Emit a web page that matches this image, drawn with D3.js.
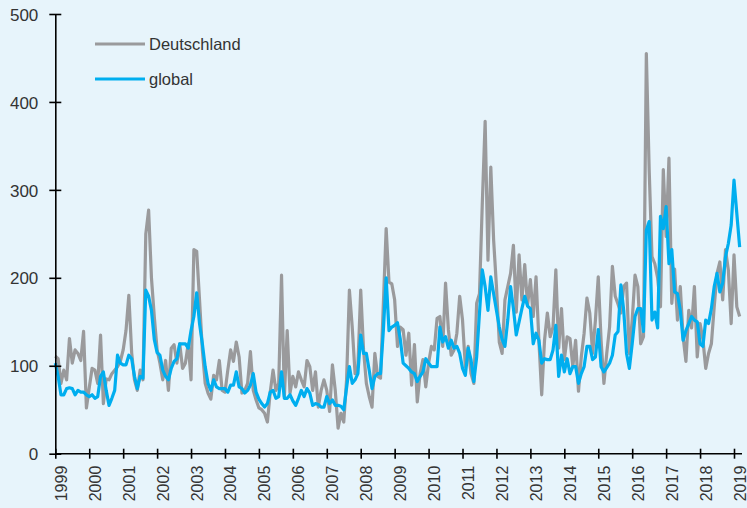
<!DOCTYPE html>
<html>
<head>
<meta charset="utf-8">
<script src="https://cdn.jsdelivr.net/npm/d3@7"></script>
<style>
  body { margin: 0; background: #e7f4fb; }
  svg { display: block; font-family: "Liberation Sans", Arial, sans-serif; }
</style>
</head>
<body>
<svg id="chart"></svg>
<script>
// monthly values, Jan 1999 - Mar 2019
const deutschland = [
  111, 108, 80, 95, 84, 131, 103, 118, 114, 106, 139, 52,
  75, 97, 95, 80, 135, 57, 85, 84, 91, 95, 99, 105,
  118, 140, 180, 115, 84, 72, 95, 84, 250, 277, 200, 156,
  118, 103, 84, 106, 72, 120, 124, 103, 125, 97, 103, 125,
  84, 232, 230, 175, 118, 80, 69, 62, 89, 84, 106, 72,
  70, 95, 118, 105, 127, 110, 69, 72, 80, 116, 72, 61,
  52, 50, 46, 36, 70, 95, 72, 80, 203, 65, 140, 69,
  88, 76, 93, 84, 76, 106, 99, 72, 93, 53, 72, 84,
  72, 48, 101, 72, 29, 46, 36, 84, 186, 144, 91, 99,
  186, 118, 80, 65, 53, 114, 88, 86, 170, 256, 195, 193,
  175, 122, 144, 141, 112, 137, 78, 124, 59, 91, 107, 76,
  103, 122, 118, 154, 156, 122, 194, 141, 112, 118, 137, 179,
  152, 99, 122, 91, 80, 171, 182, 285, 378, 220, 326, 243,
  190, 127, 114, 175, 190, 205, 237, 161, 226, 175, 215, 169,
  198, 156, 201, 129, 67, 129, 160, 133, 144, 209, 120, 165,
  107, 133, 131, 99, 129, 71, 110, 137, 177, 160, 114, 152,
  201, 129, 80, 114, 144, 213, 179, 170, 160, 190, 194, 114,
  152, 203, 190, 125, 133, 455, 323, 224, 216, 200, 167, 323,
  247, 336, 171, 210, 152, 190, 133, 105, 163, 143, 190, 110,
  148, 130, 97, 114, 125, 167, 205, 218, 175, 232, 209, 148,
  226, 167, 156
];

const global = [
  103, 88, 67, 67, 74, 75, 74, 67, 72, 70, 70, 67,
  65, 67, 63, 65, 88, 93, 72, 55, 63, 72, 112, 103,
  101, 101, 112, 108, 88, 74, 88, 86, 186, 179, 163, 130,
  115, 112, 95, 88, 84, 97, 105, 108, 125, 125, 125, 120,
  140, 156, 183, 148, 125, 99, 80, 72, 84, 76, 74, 74,
  74, 70, 78, 78, 93, 76, 74, 69, 72, 78, 91, 70,
  62, 57, 53, 57, 70, 72, 63, 65, 93, 63, 63, 67,
  60, 55, 63, 72, 65, 74, 69, 55, 57, 56, 53, 53,
  65, 57, 61, 55, 55, 54, 50, 75, 99, 80, 84, 91,
  135, 114, 114, 95, 74, 88, 91, 91, 140, 200, 140, 144,
  146, 149, 130, 103, 100, 97, 93, 91, 82, 88, 93, 108,
  103, 99, 99, 99, 144, 127, 133, 120, 129, 120, 122, 114,
  97, 89, 120, 107, 82, 110, 160, 209, 190, 163, 201, 182,
  163, 144, 130, 122, 152, 190, 165, 135, 150, 165, 179, 168,
  165, 125, 137, 129, 103, 108, 107, 107, 118, 146, 88, 112,
  93, 108, 91, 99, 99, 80, 91, 99, 122, 122, 107, 110,
  141, 99, 93, 98, 103, 112, 135, 139, 192, 163, 114, 97,
  125, 156, 165, 165, 139, 254, 264, 152, 161, 143, 270, 256,
  281, 216, 232, 184, 182, 163, 129, 140, 148, 156, 152, 150,
  125, 122, 152, 148, 165, 190, 205, 184, 194, 224, 239, 260,
  311, 273, 235
];

const years = d3.range(1999, 2020);
const yTicks = [0, 100, 200, 300, 400, 500];
const seriesNames = ["Deutschland", "global"];
const colors = ["#9a9a9c", "#00aeef"];

const W = 747, H = 508;

const x = d3.scaleLinear().domain([1999, 2019]).range([55.3, 734]);
const y = d3.scaleLinear().domain([0, 500]).range([453.7, 14]);

const svg = d3.select("#chart").attr("width", W).attr("height", H);

svg.append("rect").attr("width", W).attr("height", H).attr("fill", "#e7f4fb");

// lines
const line = d3.line()
  .x((d, i) => x(1999 + i / 12))
  .y(d => y(d))
  .curve(d3.curveLinear);

[deutschland, global].forEach((data, k) => {
  svg.append("path")
    .datum(data)
    .attr("fill", "none")
    .attr("stroke", colors[k])
    .attr("stroke-width", 3.2)
    .attr("stroke-linejoin", "round")
    .attr("d", line);
});

// y axis
const yAxis = svg.append("g")
  .attr("transform", "translate(" + x(1999) + ",0)")
  .call(d3.axisLeft(y).tickValues(yTicks).tickSize(6).tickSizeOuter(0));
yAxis.select(".domain").attr("stroke", "#000").attr("stroke-width", 1.6);
yAxis.selectAll(".tick line").attr("x1", 6).attr("stroke", "#000").attr("stroke-width", 1.6);
yAxis.selectAll(".tick text")
  .attr("x", -17).attr("dy", "0.36em")
  .attr("fill", "#333").style("font-size", "17px");

// x axis
const xAxis = svg.append("g")
  .attr("transform", "translate(0," + y(0) + ")")
  .call(d3.axisBottom(x).tickValues(years).tickFormat(d3.format("d")).tickSize(5).tickSizeOuter(0));
xAxis.select(".domain").remove();
xAxis.append("line")
  .attr("x1", x(1999)).attr("x2", x(2019) + 8)
  .attr("stroke", "#000").attr("stroke-width", 1.6);
xAxis.selectAll(".tick line").attr("y1", -5).attr("stroke", "#000").attr("stroke-width", 1.6);
xAxis.selectAll(".tick text")
  .attr("transform", "rotate(-90)")
  .attr("text-anchor", "end")
  .attr("x", -12).attr("y", 11).attr("dy", 0)
  .attr("fill", "#333").style("font-size", "16px");

// legend
const legend = svg.append("g");
seriesNames.forEach((name, k) => {
  const ly = 44 + k * 35;
  legend.append("line")
    .attr("x1", 95).attr("x2", 145).attr("y1", ly).attr("y2", ly)
    .attr("stroke", colors[k]).attr("stroke-width", 3.2);
  legend.append("text")
    .attr("x", 149).attr("y", ly).attr("dy", "0.36em")
    .attr("fill", "#333").style("font-size", "16.5px")
    .text(name);
});
</script>
</body>
</html>
